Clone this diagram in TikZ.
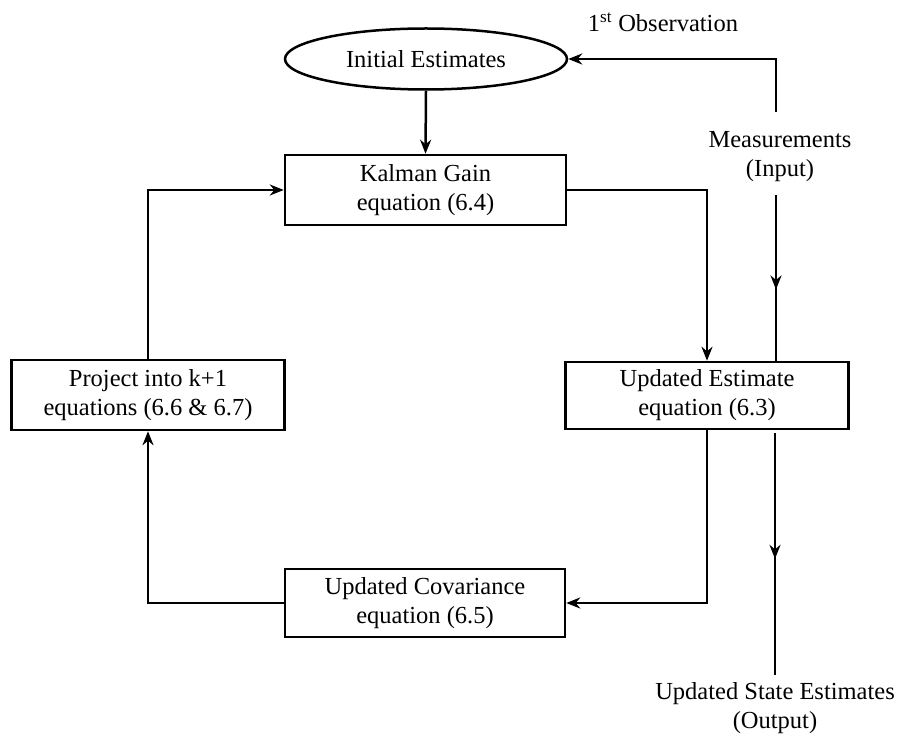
\documentclass[tikz,border=0pt]{standalone}
\usepackage{fontspec}
\setmainfont{Liberation Serif}
\usetikzlibrary{arrows.meta,shapes.geometric,decorations.markings}
\begin{document}
\begin{tikzpicture}[
  x=1pt, y=-1pt,
  font=\fontsize{24.5}{29}\selectfont,
  box/.style={draw, line width=2.5pt, align=center, inner sep=0pt},
  blob/.style={draw, ellipse, line width=2.5pt, inner sep=0pt},
  lbl/.style={align=center, inner sep=0pt},
  flow/.style={line width=2.5pt, -{Stealth[length=14pt,width=11pt]}},
  midarrow/.style={line width=2.5pt, postaction={decorate},
    decoration={markings, mark=at position #1 with {\arrow{Stealth[length=14pt,width=11pt]}}}},
]
\useasboundingbox (0,0) rectangle (899,735);

% the loop, clockwise from the top
\node[blob, minimum width=282pt, minimum height=61pt] (init) at (426,59)  {Initial Estimates};
\node[box, minimum width=281pt, minimum height=70pt]  (gain) at (425.5,190) {Kalman Gain\\equation (6.4)};
\node[box, minimum width=283pt, minimum height=67pt]  (upd)  at (707,395.5) {Updated Estimate\\equation (6.3)};
\node[box, minimum width=280pt, minimum height=68pt]  (cov)  at (425,603)  {Updated Covariance\\equation (6.5)};
\node[box, minimum width=273pt, minimum height=70pt]  (proj) at (148,395)  {Project into k+1\\equations (6.6 \& 6.7)};

% outside labels
\node[lbl] (obs)  at (663,22)  {1\textsuperscript{st} Observation};
\node[lbl] (meas) at (780,157) {Measurements\\(Input)};
\node[lbl] (out)  at (775,708) {Updated State Estimates\\(Output)};

% free ends of the measurement and output lines
\coordinate (m1) at (776,112);
\coordinate (m2) at (776,195);
\coordinate (o1) at (775,433);
\coordinate (o2) at (775,675);

\draw[flow] (init.south) -- (gain.north);
\draw[flow] (gain.east) -| (upd.north);
\draw[flow] (upd.south) |- (cov.east);
\draw[flow] (cov.west) -| (proj.south);
\draw[flow] (proj.north) |- (gain.west);

\draw[flow] (m1) |- (init.east);
\draw[midarrow=0.57] (m2) -- (m2 |- upd.north);
\draw[midarrow=0.52] (o1) -- (o2);
\end{tikzpicture}
\end{document}
